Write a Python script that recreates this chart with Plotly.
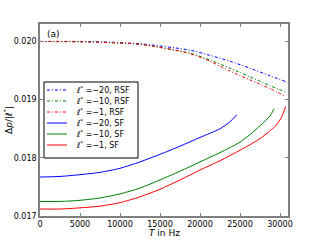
import plotly.graph_objects as go

# RSF series (dash-dot), T in Hz
T_rsf = [0, 6250, 12500, 18750, 21250, 23750, 26250, 28750, 30700]
rsf_20 = [0.02000, 0.019998, 0.01996, 0.01985, 0.01976, 0.01966, 0.01954, 0.01941, 0.01931]
rsf_10 = [0.02000, 0.019992, 0.01995, 0.01980, 0.01968, 0.01954, 0.01939, 0.01924, 0.01913]
rsf_1 = [0.02000, 0.01999, 0.01995, 0.01979, 0.01966, 0.01949, 0.01934, 0.01919, 0.01906]

# SF series (solid)
T_sf_20 = [0, 2500, 5000, 7500, 10000, 12500, 15000, 17500, 20000, 22500, 23750, 24590]
sf_20 = [0.01767, 0.01768, 0.01771, 0.01775, 0.01782, 0.01793, 0.01806, 0.01820, 0.01835, 0.01850, 0.01862, 0.01874]
T_sf_10 = [0, 2500, 5000, 7500, 10000, 12500, 15000, 17500, 20000, 22500, 25000, 26250, 27500, 28750, 29250]
sf_10 = [0.01725, 0.01725, 0.01727, 0.01731, 0.01738, 0.01748, 0.01762, 0.01777, 0.01793, 0.01809,
         0.01827, 0.01840, 0.01855, 0.01872, 0.01884]
T_sf_1 = [0, 2500, 5000, 7500, 10000, 12500, 15000, 17500, 20000, 22500, 25000, 27500, 29460, 30200, 30700]
sf_1 = [0.01712, 0.01712, 0.01714, 0.01717, 0.01723, 0.01733, 0.01746, 0.01762, 0.01779, 0.01795,
        0.01813, 0.01833, 0.01855, 0.01870, 0.01888]

labels = ["ℓ<sup>*</sup> =−20, RSF", "ℓ<sup>*</sup> =−10, RSF", "ℓ<sup>*</sup> =−1, RSF",
          "ℓ<sup>*</sup> =−20, SF", "ℓ<sup>*</sup> =−10, SF", "ℓ<sup>*</sup> =−1, SF"]
x_ticks = [0, 5000, 10000, 15000, 20000, 25000, 30000]
y_ticks = [0.017, 0.018, 0.019, 0.020]
y_ticktext = ["0.017", "0.018", "0.019", "0.020"]

BLUE, GREEN, RED = "#0000ff", "#008000", "#ff0000"
DASHDOT = "3px,2px,1px,2px"
FONT = "DejaVu Sans"

# plot-area geometry in pixels (for converting legend/label positions to paper coords)
L, R, T, B = 40, 288, 24, 216
def px(x):
    return (x - L) / (R - L)
def py(y):
    return (B - y) / (B - T)

fig = go.Figure()
series = [
    (T_rsf, rsf_20, BLUE, DASHDOT),
    (T_rsf, rsf_10, GREEN, DASHDOT),
    (T_rsf, rsf_1, RED, DASHDOT),
    (T_sf_20, sf_20, BLUE, "solid"),
    (T_sf_10, sf_10, GREEN, "solid"),
    (T_sf_1, sf_1, RED, "solid"),
]
for (tx, ty, c, d), name in zip(series, labels):
    fig.add_trace(go.Scatter(x=tx, y=ty, mode="lines", name=name, showlegend=False,
                             line=dict(color=c, width=1, dash=d, shape="spline", smoothing=0.7)))

# manual legend (compact, like the reference)
fig.add_shape(type="rect", xref="paper", yref="paper",
              x0=px(44), x1=px(138), y0=py(158), y1=py(82),
              line=dict(color="black", width=1), fillcolor="white", layer="above")
row_y = [90, 101, 112, 123, 134, 145]
for (tx, ty, c, d), name, ry in zip(series, labels, row_y):
    fig.add_shape(type="line", xref="paper", yref="paper",
                  x0=px(47), x1=px(67), y0=py(ry), y1=py(ry),
                  line=dict(color=c, width=1, dash=d), layer="above")
    fig.add_annotation(text=name, xref="paper", yref="paper", x=px(74), y=py(ry),
                       xanchor="left", yanchor="middle", showarrow=False,
                       font=dict(family=FONT, size=8, color="black"))

fig.add_annotation(text="(a)", x=px(45), y=py(27), xref="paper", yref="paper",
                   xanchor="left", yanchor="top", showarrow=False,
                   font=dict(family=FONT, size=9, color="black"))
# axis titles
fig.add_annotation(text="<i>T</i> in Hz", x=px(164), y=py(233), xref="paper", yref="paper",
                   xanchor="center", yanchor="middle", showarrow=False,
                   font=dict(family=FONT, size=9, color="black"))
fig.add_annotation(text="Δ<i>p</i>/|ℓ<sup>*</sup>|", x=px(8), y=py(120), xref="paper", yref="paper",
                   xanchor="center", yanchor="middle", showarrow=False, textangle=-90,
                   font=dict(family=FONT, size=9, color="black"))

axis_common = dict(showline=True, linecolor="#808080", linewidth=1.5, mirror="allticks",
                   ticks="inside", ticklen=3, tickcolor="#808080", showgrid=False, zeroline=False,
                   automargin=False, tickfont=dict(family=FONT, size=8, color="black"))
fig.update_xaxes(range=[0, 31000], tickvals=x_ticks, ticktext=[str(v) for v in x_ticks], **axis_common)
fig.update_yaxes(range=[0.017, 0.0203], tickvals=y_ticks, ticktext=y_ticktext, **axis_common)

fig.update_layout(width=320, height=240, margin=dict(l=L, r=320 - R, t=T, b=240 - B),
                  paper_bgcolor="white", plot_bgcolor="white", showlegend=False,
                  font=dict(family=FONT, size=8, color="black"))

fig.write_html("out.html", config={"displayModeBar": False},
               post_script="document.body.style.margin='0';")
